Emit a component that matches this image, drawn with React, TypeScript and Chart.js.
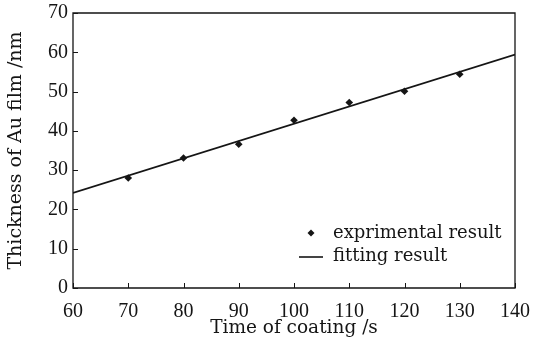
import React, { useEffect, useRef } from "react";
import { Chart, registerables } from "chart.js";

Chart.register(...registerables);

const coatingTime = [70, 80, 90, 100, 110, 120, 130];
const thickness = [28.0, 33.1, 36.6, 42.7, 47.2, 50.1, 54.4];
const fitTime = [60, 140];
const fitThickness = [24.2, 59.4];
const xTicks = [60, 70, 80, 90, 100, 110, 120, 130, 140];
const yTicks = [0, 10, 20, 30, 40, 50, 60, 70];
const seriesNames = ["exprimental result", "fitting result"];
const xTitle = "Time of coating /s";
const yTitle = "Thickness of Au film /nm";

const TICK_FONT = "'Liberation Serif', serif";
const TEXT_FONT = "'DejaVu Serif', serif";
const INK = "#151515";

const framePlugin = {
  id: "frame",
  afterDraw(chart: any) {
    const { ctx, chartArea } = chart;
    const { left, right, top, bottom } = chartArea;
    const xs = chart.scales.x;
    const ys = chart.scales.y;
    ctx.save();
    ctx.lineWidth = 1.3;
    ctx.strokeStyle = INK;
    ctx.beginPath();
    ctx.moveTo(left, top);
    ctx.lineTo(right, top);
    ctx.lineTo(right, bottom);
    ctx.lineTo(left, bottom);
    ctx.closePath();
    ctx.stroke();
    // inward ticks
    ctx.lineWidth = 1;
    ctx.beginPath();
    xTicks.forEach((v) => {
      const px = Math.round(xs.getPixelForValue(v)) + 0.5;
      ctx.moveTo(px, bottom);
      ctx.lineTo(px, bottom - 5);
    });
    yTicks.forEach((v) => {
      const py = Math.round(ys.getPixelForValue(v)) + 0.5;
      ctx.moveTo(left, py);
      ctx.lineTo(left + 5, py);
    });
    ctx.stroke();

    // legend
    const tx = right - 182;
    const y1 = bottom - 55;
    const y2 = bottom - 32;
    ctx.fillStyle = INK;
    ctx.font = `18px ${TEXT_FONT}`;
    ctx.textBaseline = "middle";
    ctx.textAlign = "left";
    ctx.fillText(seriesNames[0], tx, y1);
    ctx.fillText(seriesNames[1], tx, y2);
    // diamond
    const dx = tx - 22;
    ctx.beginPath();
    ctx.moveTo(dx, y1 - 3.5);
    ctx.lineTo(dx + 3.5, y1);
    ctx.lineTo(dx, y1 + 3.5);
    ctx.lineTo(dx - 3.5, y1);
    ctx.closePath();
    ctx.fill();
    // line
    ctx.lineWidth = 1.6;
    ctx.beginPath();
    ctx.moveTo(tx - 34, y2 + 1);
    ctx.lineTo(tx - 10, y2 + 1);
    ctx.stroke();
    ctx.restore();
  },
};

export default function App() {
  const ref = useRef<HTMLCanvasElement>(null);
  useEffect(() => {
    document.body.style.margin = "0";
    const chart = new Chart(ref.current!, {
      type: "scatter",
      data: {
        datasets: [
          {
            label: seriesNames[0],
            data: coatingTime.map((x, i) => ({ x, y: thickness[i] })),
            pointStyle: "rectRot",
            pointRadius: 3.8,
            backgroundColor: INK,
            borderColor: INK,
            borderWidth: 0,
          },
          {
            label: seriesNames[1],
            type: "line",
            data: fitTime.map((x, i) => ({ x, y: fitThickness[i] })),
            showLine: true,
            borderColor: INK,
            borderWidth: 1.7,
            pointRadius: 0,
            fill: false,
          } as any,
        ],
      },
      options: {
        animation: false,
        responsive: false,
        layout: { padding: { left: 0, right: 18, top: 13, bottom: 0 } },
        plugins: { legend: { display: false }, tooltip: { enabled: false } },
        scales: {
          x: {
            type: "linear",
            min: 60,
            max: 140,
            afterBuildTicks: (s: any) => {
              s.ticks = xTicks.map((v) => ({ value: v }));
            },
            afterFit: (s: any) => {
              s.height = 57;
              s.paddingLeft = 0;
              s.paddingRight = 0;
            },
            grid: { display: false, drawTicks: false },
            border: { display: false },
            ticks: {
              color: INK,
              padding: 12,
              maxRotation: 0,
              font: { family: TICK_FONT, size: 20 },
            },
            title: {
              display: true,
              text: xTitle,
              color: INK,
              font: { family: TEXT_FONT, size: 18.5 },
              padding: { top: 0, bottom: 6 },
            },
          },
          y: {
            type: "linear",
            min: 0,
            max: 70,
            afterBuildTicks: (s: any) => {
              s.ticks = yTicks.map((v) => ({ value: v }));
            },
            afterFit: (s: any) => {
              s.width = 73;
              s.paddingTop = 0;
              s.paddingBottom = 0;
            },
            grid: { display: false, drawTicks: false },
            border: { display: false },
            ticks: {
              color: INK,
              padding: 5,
              font: { family: TICK_FONT, size: 20 },
            },
            title: {
              display: true,
              text: yTitle,
              color: INK,
              font: { family: TEXT_FONT, size: 19 },
              padding: { top: 5, bottom: 0 },
            },
          },
        },
      },
      plugins: [framePlugin],
    });
    return () => chart.destroy();
  }, []);
  return <canvas ref={ref} width={533} height={345} style={{ display: "block" }} />;
}
